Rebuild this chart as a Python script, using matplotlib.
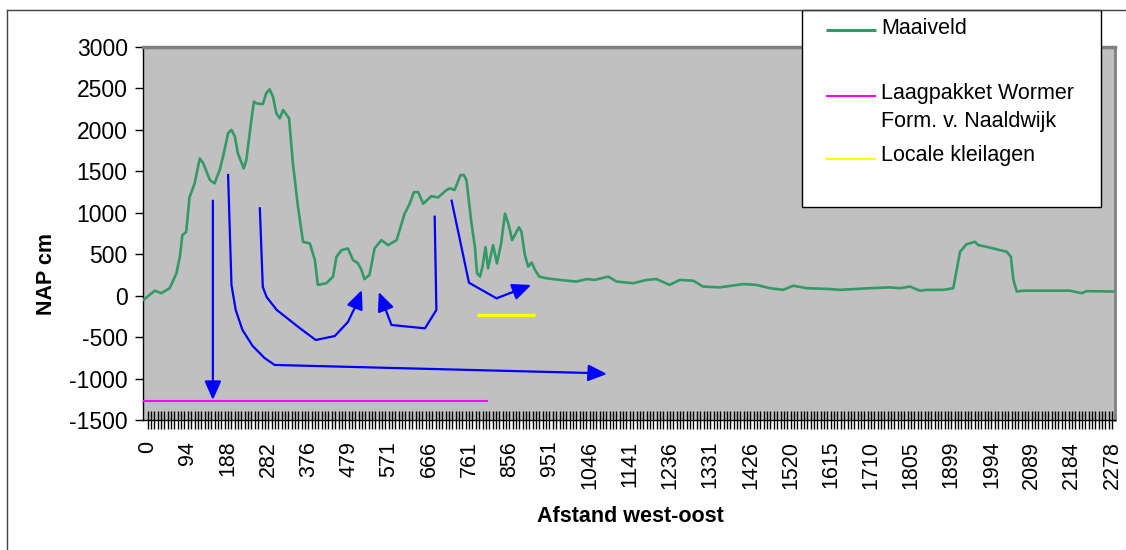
import numpy as np
import matplotlib
matplotlib.use('Agg')
import matplotlib.pyplot as plt
from matplotlib.patches import Rectangle

plt.rcParams['font.family'] = ['Liberation Sans', 'DejaVu Sans']

# ---------------- data ----------------
afstand = [-10, 17, 32, 52, 68, 76, 82, 91, 99, 111, 119, 123, 131, 147, 158, 170, 178, 190, 198, 206,
           213, 227, 233, 245, 251, 257, 272, 280, 288, 296, 304, 312, 320, 334, 343, 355, 367, 383, 395, 402,
           422, 438, 446, 458, 473, 485, 497, 505, 512, 524, 536, 552, 568, 588, 607, 619, 629, 639, 651, 670,
           686, 706, 714, 725, 739, 747, 753, 765, 773, 778, 785, 791, 798, 804, 816, 825, 835, 844, 852, 861,
           877, 883, 891, 899, 907, 915, 925, 942, 973, 1013, 1037, 1056, 1088, 1108, 1147, 1178, 1202, 1233,
           1257, 1289, 1312, 1352, 1407, 1438, 1470, 1501, 1525, 1557, 1612, 1635, 1706, 1753, 1777, 1801,
           1824, 1840, 1879, 1903, 1911, 1919, 1934, 1954, 1962, 1981, 2005, 2029, 2039, 2045, 2053, 2068,
           2179, 2206, 2218, 2280]
maaiveld = [-50, 60, 30, 90, 270, 470, 730, 770, 1190, 1355, 1555, 1655, 1600, 1395, 1355, 1515, 1675, 1960,
            2000, 1920, 1720, 1535, 1635, 2120, 2340, 2320, 2310, 2440, 2490, 2400, 2200, 2140, 2240, 2140,
            1600, 1075, 650, 630, 430, 130, 150, 230, 470, 550, 570, 430, 390, 310, 200, 250, 570, 670, 610,
            670, 990, 1110, 1250, 1250, 1110, 1200, 1185, 1275, 1295, 1275, 1455, 1455, 1395, 870, 590, 270,
            230, 350, 585, 330, 610, 390, 630, 990, 870, 670, 825, 770, 490, 350, 400, 310, 230, 210, 190,
            170, 200, 190, 230, 170, 150, 190, 200, 130, 190, 180, 110, 100, 140, 130, 90, 70, 120, 90, 80,
            70, 90, 100, 90, 110, 60, 70, 70, 90, 310, 530, 620, 650, 610, 590, 560, 530, 470, 190, 50, 60,
            60, 30, 55, 50]

laagpakket_x = [-11, 803]
laagpakket_y = [-1270, -1270]
klei_x = [777, 915]
klei_y = [-230, -230]

# freehand arrows (distance, NAP cm); last point is the arrow tip
arrow1_x = [154, 154]
arrow1_y = [1146, -1259]
arrow2_x = [190, 194, 198, 208, 224, 248, 276, 300, 1044, 1085]
arrow2_y = [1456, 792, 129, -173, -414, -607, -752, -836, -933, -945]
arrow3_x = [265, 272, 281, 305, 359, 397, 442, 473, 489, 506]
arrow3_y = [1054, 105, -16, -173, -390, -535, -487, -318, -149, 68]
arrow4_x = [678, 682, 655, 576, 558, 546]
arrow4_y = [953, -173, -394, -354, -113, 44]
arrow5_x = [718, 759, 824, 906]
arrow5_y = [1146, 156, -32, 129]

x_tick_labels = ['0', '94', '188', '282', '376', '479', '571', '666', '761', '856', '951', '1046',
                 '1141', '1236', '1331', '1426', '1520', '1615', '1710', '1805', '1899', '1994',
                 '2089', '2184', '2278']
y_ticks = [-1500, -1000, -500, 0, 500, 1000, 1500, 2000, 2500, 3000]

legend_labels = ['Maaiveld', 'Laagpakket Wormer\nForm. v. Naaldwijk', 'Locale kleilagen']

# ---------------- figure ----------------
W, H = 1126, 550
fig = plt.figure(figsize=(W / 100, H / 100), dpi=100)
fig.patch.set_facecolor('white')

ax = fig.add_axes([143 / W, 1 - 420 / H, 972 / W, 373 / H])
ax.set_facecolor('#C0C0C0')

GREEN = '#339966'
BLUE = '#0000FF'

ax.plot(afstand, maaiveld, color=GREEN, lw=1.9, zorder=3)
ax.plot(laagpakket_x, laagpakket_y, color='#FF00FF', lw=1.5, zorder=3, solid_capstyle='butt')
ax.plot(klei_x, klei_y, color='#FFFF00', lw=2.4, zorder=3, solid_capstyle='butt')

for xs, ys in [(arrow1_x, arrow1_y), (arrow2_x, arrow2_y), (arrow3_x, arrow3_y),
               (arrow4_x, arrow4_y), (arrow5_x, arrow5_y)]:
    if len(xs) > 2:
        ax.plot(xs[:-1], ys[:-1], color=BLUE, lw=1.6, zorder=4)
    ax.annotate('', xy=(xs[-1], ys[-1]), xytext=(xs[-2], ys[-2]), zorder=4,
                arrowprops=dict(arrowstyle='-|>,head_length=0.95,head_width=0.42',
                                color=BLUE, lw=1.6, mutation_scale=12,
                                shrinkA=0, shrinkB=0))

ax.set_xlim(-11, 2285)
ax.set_ylim(-1500, 3000)

step = 2278 / (len(x_tick_labels) - 1)
major_pos = np.arange(len(x_tick_labels)) * step
ax.set_xticks(major_pos)
ax.set_xticklabels(x_tick_labels, rotation=90)
ax.set_xticks(np.arange(0, 2285, step / 12), minor=True)
ax.tick_params(axis='x', which='both', direction='inout', length=13, width=1.0,
               color='black', labelsize=15.5, pad=8.5)
ax.set_yticks(y_ticks)
ax.set_yticklabels([str(v) for v in y_ticks])
ax.tick_params(axis='y', direction='out', length=6, width=1, labelsize=16.5, pad=5)

for s in ['left', 'bottom']:
    ax.spines[s].set_color('black')
    ax.spines[s].set_linewidth(1.0)
ax.spines['top'].set_color('#808080')
ax.spines['top'].set_linewidth(2.5)
ax.spines['right'].set_color('#808080')
ax.spines['right'].set_linewidth(2.0)

# ---------------- overlay (frame, labels, legend) ----------------
ov = fig.add_axes([0, 0, 1, 1], zorder=10)
ov.set_xlim(0, W)
ov.set_ylim(H, 0)
ov.axis('off')

ov.plot([7, W], [10, 10], color='#404040', lw=1)
ov.plot([7, 7], [10, H], color='#404040', lw=1)

ov.text(47, 274, 'NAP cm', rotation=90, ha='center', va='center', fontsize=15.5, fontweight='bold')
ov.text(630, 517, 'Afstand west-oost', ha='center', va='center', fontsize=15.5, fontweight='bold')

ov.add_patch(Rectangle((802, 10), 299, 197, facecolor='white', edgecolor='black', lw=1))
ov.plot([826, 876], [30, 30], color=GREEN, lw=2.2, solid_capstyle='butt')
ov.plot([826, 876], [96, 96], color='#FF00FF', lw=1.5, solid_capstyle='butt')
ov.plot([826, 876], [159, 159], color='#FFFF00', lw=1.5, solid_capstyle='butt')
ov.text(881, 28, legend_labels[0], ha='left', va='center', fontsize=15.5)
ov.text(881, 93, legend_labels[1].split('\n')[0], ha='left', va='center', fontsize=15.5)
ov.text(881, 121, legend_labels[1].split('\n')[1], ha='left', va='center', fontsize=15.5)
ov.text(881, 156, legend_labels[2], ha='left', va='center', fontsize=15.5)

fig.savefig('out.png', dpi=100)
